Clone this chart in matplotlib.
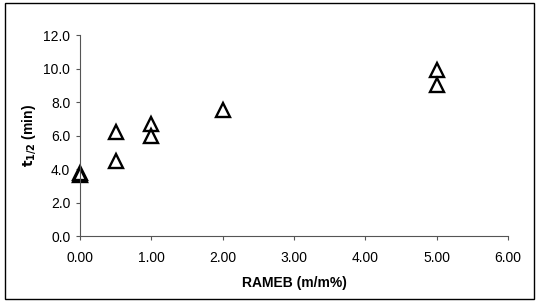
import matplotlib.pyplot as plt
from matplotlib.patches import Rectangle

# Data
rameb = [0.0, 0.0, 0.5, 0.5, 1.0, 1.0, 2.0, 5.0, 5.0]
t_half = [3.65, 3.75, 6.2, 4.5, 6.7, 6.0, 7.5, 9.9, 9.0]

x_ticks = [0, 1, 2, 3, 4, 5, 6]
y_ticks = [0, 2, 4, 6, 8, 10, 12]

plt.rcParams['font.family'] = ['Liberation Sans', 'DejaVu Sans']

fig = plt.figure(figsize=(5.37, 3.02), dpi=100)
ax = fig.add_axes([0.149, 0.2185, 0.797, 0.6655])

ax.plot(rameb, t_half, linestyle='none', marker='^', markersize=10,
        markerfacecolor='none', markeredgecolor='black', markeredgewidth=1.7,
        clip_on=False)

ax.set_xlim(0, 6)
ax.set_ylim(0, 12)
ax.set_xticks(x_ticks)
ax.set_yticks(y_ticks)
ax.set_xticklabels(['%.2f' % v for v in x_ticks])
ax.set_yticklabels(['%.1f' % v for v in y_ticks])
ax.tick_params(direction='out', length=3, width=0.8, color='#555555',
               labelsize=10)
ax.tick_params(axis='x', pad=8)
ax.tick_params(axis='y', pad=4)

for side in ['top', 'right']:
    ax.spines[side].set_visible(False)
for side in ['left', 'bottom']:
    ax.spines[side].set_color('#555555')
    ax.spines[side].set_linewidth(0.8)

ax.set_xlabel('RAMEB (m/m%)', fontsize=10, fontweight='bold', labelpad=8)
ax.set_ylabel(r'$\mathbf{t_{1/2}}$ (min)', fontsize=10, fontweight='bold',
              labelpad=4)

# outer frame
fig.patches.append(Rectangle((0.009, 0.01), 0.985, 0.98, transform=fig.transFigure,
                             fill=False, edgecolor='black', linewidth=1))

fig.savefig('out.png', dpi=100)
